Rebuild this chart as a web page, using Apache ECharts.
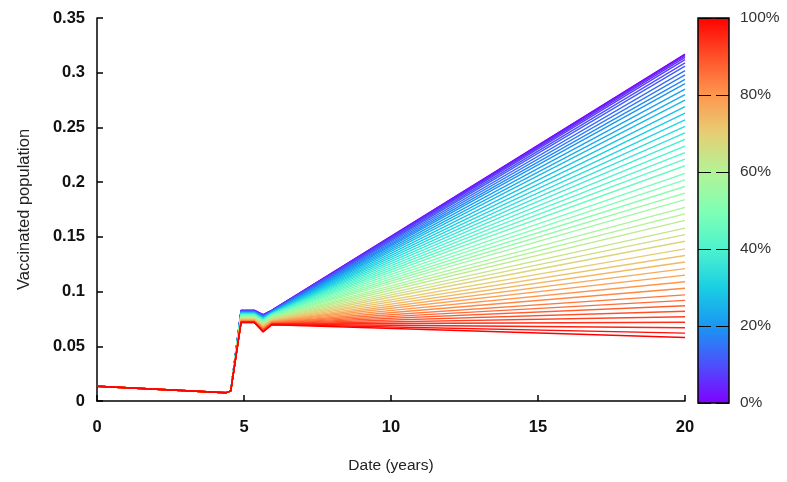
<!DOCTYPE html>
<html>
<head>
<meta charset="utf-8">
<title>Vaccinated population</title>
<script src="https://cdn.jsdelivr.net/npm/echarts@6/dist/echarts.min.js"></script>
<style>
  html, body { margin: 0; padding: 0; background: #fff; }
  #chart { width: 787px; height: 482px; }
</style>
</head>
<body>
<div id="chart"></div>
<script>
// Coverage levels (percent), one curve per level
const coverage = [0, 2, 4, 6, 8, 10, 12, 14, 16, 18, 20, 22, 24, 26, 28, 30, 32, 34, 36, 38, 40,
  42, 44, 46, 48, 50, 52, 54, 56, 58, 60, 62, 64, 66, 68, 70, 72, 74, 76, 78, 80,
  82, 84, 86, 88, 90, 92, 94, 96, 98, 100];

// Time points (years) at which each curve is sampled
const times = [0, 4.4, 4.55, 4.9, 5.35, 5.65, 5.95, 20];

// Shared values before the campaign starts (t = 0, 4.4, 4.55)
const preCampaign = [0.0135, 0.0076, 0.0092];

// Level right after the jump (t = 4.9 and 5.35)
const plateau = [0.0830, 0.0828, 0.0826, 0.0824, 0.0822, 0.0820, 0.0818, 0.0816, 0.0814, 0.0812, 0.0810,
  0.0808, 0.0806, 0.0804, 0.0802, 0.0800, 0.0798, 0.0796, 0.0794, 0.0792, 0.0790,
  0.0787, 0.0784, 0.0781, 0.0778, 0.0775, 0.0772, 0.0769, 0.0766, 0.0763, 0.0760,
  0.0757, 0.0754, 0.0751, 0.0748, 0.0745, 0.0742, 0.0739, 0.0736, 0.0734, 0.0732,
  0.0730, 0.0728, 0.0726, 0.0724, 0.0722, 0.0721, 0.0720, 0.0719, 0.0718, 0.0717];

// Small dip (t = 5.65)
const dip = [0.0790, 0.0788, 0.0786, 0.0783, 0.0781, 0.0778, 0.0776, 0.0773, 0.0771, 0.0768, 0.0766,
  0.0763, 0.0761, 0.0758, 0.0756, 0.0753, 0.0750, 0.0748, 0.0745, 0.0742, 0.0739,
  0.0736, 0.0733, 0.0730, 0.0727, 0.0724, 0.0720, 0.0716, 0.0712, 0.0708, 0.0704,
  0.0700, 0.0696, 0.0692, 0.0688, 0.0684, 0.0680, 0.0676, 0.0672, 0.0668, 0.0664,
  0.0660, 0.0656, 0.0652, 0.0648, 0.0645, 0.0642, 0.0639, 0.0636, 0.0633, 0.0630];

// Recovery after the dip (t = 5.95)
const recovery = [0.0830, 0.0829, 0.0828, 0.0826, 0.0825, 0.0823, 0.0822, 0.0820, 0.0818, 0.0816, 0.0814,
  0.0812, 0.0810, 0.0808, 0.0806, 0.0804, 0.0802, 0.0800, 0.0798, 0.0796, 0.0794,
  0.0791, 0.0788, 0.0785, 0.0782, 0.0778, 0.0774, 0.0770, 0.0766, 0.0762, 0.0758,
  0.0754, 0.0750, 0.0746, 0.0742, 0.0738, 0.0734, 0.0730, 0.0727, 0.0724, 0.0721,
  0.0718, 0.0715, 0.0712, 0.0709, 0.0707, 0.0705, 0.0703, 0.0701, 0.0699, 0.0697];

// Value reached after 20 years
const finalValue = [0.317, 0.3165, 0.3155, 0.314, 0.312, 0.309, 0.306, 0.302, 0.298, 0.294, 0.290,
  0.285, 0.280, 0.275, 0.269, 0.263, 0.257, 0.251, 0.245, 0.239, 0.233,
  0.227, 0.221, 0.215, 0.208, 0.202, 0.196, 0.190, 0.184, 0.177, 0.171,
  0.165, 0.158, 0.152, 0.146, 0.139, 0.133, 0.127, 0.121, 0.115, 0.109,
  0.103, 0.097, 0.092, 0.087, 0.082, 0.077, 0.072, 0.067, 0.062, 0.058];

// Axis ticks
const xTicks = { min: 0, max: 20, step: 5 };
const yTicks = { min: 0, max: 0.35, step: 0.05 };
const barTicks = { min: 0, max: 100, step: 20 };

// Rainbow palette (violet -> red), evenly spaced stops
const palette = ['#8000ff', '#4d4ffc', '#1a96f3', '#1acee3', '#4df3ce', '#80ffb4',
  '#b3f396', '#e6ce74', '#ff964f', '#ff4f28', '#ff0000'];

function hexToRgb(h) {
  const n = parseInt(h.slice(1), 16);
  return [(n >> 16) & 255, (n >> 8) & 255, n & 255];
}
function paletteColor(t) {
  const pos = Math.max(0, Math.min(1, t)) * (palette.length - 1);
  const i = Math.min(Math.floor(pos), palette.length - 2);
  const f = pos - i;
  const a = hexToRgb(palette[i]), b = hexToRgb(palette[i + 1]);
  const c = a.map((v, k) => Math.round(v + (b[k] - v) * f));
  return 'rgb(' + c.join(',') + ')';
}

const series = coverage.map((p, i) => {
  const values = [preCampaign[0], preCampaign[1], preCampaign[2],
    plateau[i], plateau[i], dip[i], recovery[i], finalValue[i]];
  return {
    name: p + '%',
    type: 'line',
    xAxisIndex: 0,
    yAxisIndex: 0,
    data: times.map((t, k) => [t, values[k]]),
    showSymbol: false,
    symbol: 'none',
    silent: true,
    animation: false,
    lineStyle: { width: 1.4, color: paletteColor(p / 100) },
    z: 2
  };
});

const tickFont = { fontFamily: 'Liberation Sans, Arial, sans-serif', fontSize: 16.5, fontWeight: 'bold', color: '#111' };
const nameFont = { fontFamily: 'Liberation Sans, Arial, sans-serif', color: '#222' };

const gradientStops = palette.map((c, i) => ({ offset: 1 - i / (palette.length - 1), color: c }));

const chart = echarts.init(document.getElementById('chart'), null, { renderer: 'canvas' });
chart.setOption({
  animation: false,
  backgroundColor: '#fff',
  grid: [
    { left: 97, right: 102, top: 18, bottom: 81, containLabel: false },
    {
      left: 698, right: 58, top: 18, bottom: 79, show: true,
      backgroundColor: { type: 'linear', x: 0, y: 0, x2: 0, y2: 1, colorStops: gradientStops },
      borderColor: '#000', borderWidth: 1.5
    }
  ],
  xAxis: [
    {
      gridIndex: 0, type: 'value', min: xTicks.min, max: xTicks.max, interval: xTicks.step,
      name: 'Date (years)', nameLocation: 'middle', nameGap: 57,
      nameTextStyle: Object.assign({ fontSize: 15.5 }, nameFont),
      axisLine: { show: true, onZero: false, lineStyle: { color: '#000', width: 1.5 } },
      axisTick: { show: true, inside: true, length: 6, lineStyle: { color: '#000', width: 1.5 } },
      axisLabel: Object.assign({ margin: 18 }, tickFont),
      splitLine: { show: false }
    },
    {
      gridIndex: 1, type: 'value', min: 0, max: 1, show: false
    }
  ],
  yAxis: [
    {
      gridIndex: 0, type: 'value', min: yTicks.min, max: yTicks.max, interval: yTicks.step,
      name: 'Vaccinated population', nameLocation: 'middle', nameGap: 64, nameRotate: 90,
      nameTextStyle: Object.assign({ fontSize: 16.5 }, nameFont),
      axisLine: { show: true, onZero: false, lineStyle: { color: '#000', width: 1.5 } },
      axisTick: { show: true, inside: true, length: 6, lineStyle: { color: '#000', width: 1.5 } },
      axisLabel: Object.assign({ margin: 12, formatter: v => String(+v.toFixed(2)) }, tickFont),
      splitLine: { show: false }
    },
    {
      gridIndex: 1, type: 'value', min: barTicks.min, max: barTicks.max, interval: barTicks.step,
      position: 'right',
      axisLine: { show: false },
      axisTick: { show: false },
      axisLabel: {
        margin: 11, formatter: '{value}%',
        fontFamily: 'Liberation Sans, Arial, sans-serif', fontSize: 15.5, color: '#333'
      },
      splitLine: { show: true, lineStyle: { color: '#000', width: 1.2, type: [13, 5] } },
      z: 5
    }
  ],
  series: series
});
</script>
</body>
</html>
